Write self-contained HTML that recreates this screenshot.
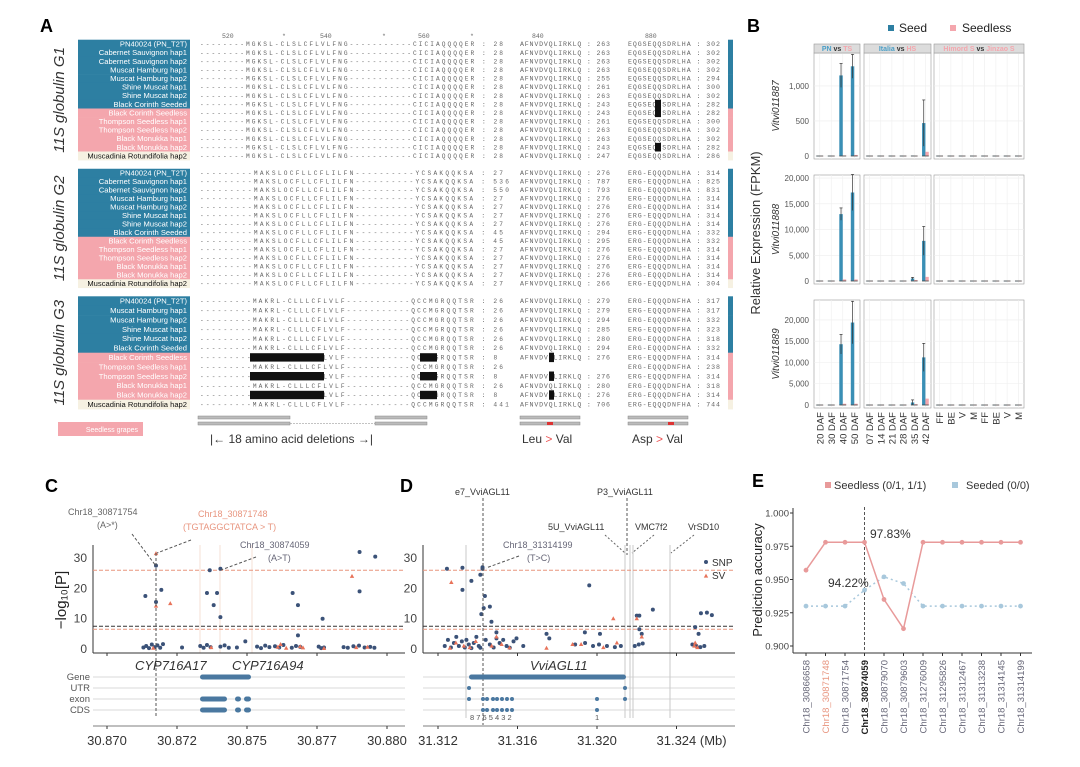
<!DOCTYPE html>
<html><head><meta charset="utf-8"><style>
html,body{margin:0;padding:0;background:#fff;}
svg{display:block;font-family:"Liberation Sans",sans-serif;}
.mono{font-family:"Liberation Mono",monospace;fill:#666;}
</style></head><body>
<svg id="fig" width="1080" height="767" viewBox="0 0 1080 767">
<g id="pA">
<text x="40" y="32" font-size="18" font-weight="bold">A</text>
<text class="mono" x="222" y="38" font-size="6.5">520</text>
<text class="mono" x="282" y="38" font-size="6.5">*</text>
<text class="mono" x="320" y="38" font-size="6.5">540</text>
<text class="mono" x="382" y="38" font-size="6.5">*</text>
<text class="mono" x="418" y="38" font-size="6.5">560</text>
<text class="mono" x="470" y="38" font-size="6.5">*</text>
<text class="mono" x="532" y="38" font-size="6.5">840</text>
<text class="mono" x="645" y="38" font-size="6.5">880</text>
<rect x="58" y="422" width="85" height="14" fill="#f4a6ad"/>
<text x="138" y="432" font-size="7" fill="#fff" text-anchor="end">Seedless grapes</text>
<rect x="198" y="422" width="92" height="3" fill="#bbb" stroke="#888" stroke-width="0.5"/>
<line x1="290" y1="423.5" x2="375" y2="423.5" stroke="#888" stroke-dasharray="2,1" stroke-width="0.6"/>
<rect x="375" y="422" width="52" height="3" fill="#bbb" stroke="#888" stroke-width="0.5"/>
<rect x="198" y="416" width="92" height="3" fill="#bbb" stroke="#888" stroke-width="0.5"/>
<rect x="375" y="416" width="52" height="3" fill="#bbb" stroke="#888" stroke-width="0.5"/>
<rect x="520" y="416" width="60" height="3" fill="#bbb" stroke="#888" stroke-width="0.5"/>
<rect x="520" y="422" width="60" height="3" fill="#bbb" stroke="#888" stroke-width="0.5"/>
<rect x="547" y="422" width="6" height="3" fill="#d33"/>
<rect x="628" y="416" width="60" height="3" fill="#bbb" stroke="#888" stroke-width="0.5"/>
<rect x="628" y="422" width="60" height="3" fill="#bbb" stroke="#888" stroke-width="0.5"/>
<rect x="668" y="422" width="6" height="3" fill="#d33"/>
<text x="210" y="443" font-size="12" fill="#333">|← 18 amino acid deletions →|</text>
<text x="522" y="443" font-size="12" fill="#333">Leu <tspan fill="#e55">&gt;</tspan> Val</text>
<text x="632" y="443" font-size="12" fill="#333">Asp <tspan fill="#e55">&gt;</tspan> Val</text>
</g>
<g id="pB"></g>
<g id="pC"></g>
<g id="pD"></g>
<g id="pE"></g>
</svg>
<script>
const NS="http://www.w3.org/2000/svg";
function mk(p,tag,at,txt){const e=document.createElementNS(NS,tag);for(const k in at)e.setAttribute(k,at[k]);if(txt!==undefined)e.textContent=txt;p.appendChild(e);return e;}
const BLUE="#2d7fa2",PINK="#f4a6ad",CREAM="#f6f1e2";

/* ---------- Panel A ---------- */
const namesG1=["PN40024 (PN_T2T)","Cabernet Sauvignon hap1","Cabernet Sauvignon hap2","Muscat Hamburg hap1","Muscat Hamburg hap2","Shine Muscat hap1","Shine Muscat hap2","Black Corinth Seeded","Black Corinth Seedless","Thompson Seedless hap1","Thompson Seedless hap2","Black Monukka hap1","Black Monukka hap2","Muscadinia Rotundifolia hap2"];
const namesG3=["PN40024 (PN_T2T)","Muscat Hamburg hap1","Muscat Hamburg hap2","Shine Muscat hap1","Shine Muscat hap2","Black Corinth Seeded","Black Corinth Seedless","Thompson Seedless hap1","Thompson Seedless hap2","Black Monukka hap1","Black Monukka hap2","Muscadinia Rotundifolia hap2"];
const nG1=[["28","28","28","28","28","28","28","28","28","28","28","28","28","28"],["263","263","263","263","255","261","263","243","243","261","263","263","243","247"],["302","302","302","302","294","300","302","282","282","300","302","302","282","286"]];
const nG2=[["27","536","550","27","27","27","27","45","45","27","27","27","27","27"],["276","787","793","276","276","276","276","294","295","276","276","276","276","266"],["314","825","831","314","314","314","314","332","332","314","314","314","314","304"]];
const nG3=[["26","26","26","26","26","26","8","26","8","26","8","441"],["279","279","294","285","280","294","276","","276","280","276","706"],["317","317","332","323","318","332","314","238","314","318","314","744"]];
const groups=[
 {title:"11S globulin G1",y0:44,dy:8.6,names:namesG1,nb:8,np:5,nums:nG1,s:["--------MGKSL-CLSLCFLVLFNG-----------CICIAQQQQER","AFNVDVQLIRKLQ","EQGSEQQSDRLHA"]},
 {title:"11S globulin G2",y0:173,dy:8.5,names:namesG1,nb:8,np:5,nums:nG2,s:["---------MAKSLOCFLLCFLILFN----------YCSAKQQKSA","AFNVDVQLIRKLQ","ERG-EQQQDNLHA"]},
 {title:"11S globulin G3",y0:301,dy:9.4,names:namesG3,nb:6,np:5,nums:nG3,s:["---------MAKRL-CLLLCFLVLF-----------QCCMGRQQTSR","AFNVDVQLIRKLQ","ERG-EQQQDNFHA"]}];
const pA=document.getElementById('pA');
groups.forEach((g,gi)=>{
  const n=g.names.length, top=g.y0-g.dy/2, bot=g.y0+(n-0.5)*g.dy;
  const t=mk(pA,'text',{x:0,y:0,'font-size':15,'font-style':'italic',fill:'#333','text-anchor':'middle',transform:`translate(${64},${(top+bot)/2}) rotate(-90)`},g.title);
  
  
  g.names.forEach((nm,i)=>{
    const col=i<g.nb?BLUE:(i<g.nb+g.np?PINK:CREAM);
    const y=g.y0+i*g.dy;
    mk(pA,'rect',{x:78,y:y-g.dy/2,width:112,height:g.dy+0.3,fill:col});
    mk(pA,'rect',{x:728,y:y-g.dy/2,width:5,height:g.dy+0.3,fill:col});
    const lb=mk(pA,'text',{x:187,y:y+2.6,'font-size':7.6,fill:col===CREAM?'#111':'#fff','text-anchor':'end'},nm);
    
    
    const xs=[200,520,628], fs=[6.2,6.6,6.6], tl=[303,90,92];
    g.s.forEach((s,b)=>{
      let str=s; if(gi===2&&i===7&&b===1) str="";
      const full=str+(g.nums[b][i]!==''?" : "+g.nums[b][i]:"");
      const at={x:xs[b],y:y+2.2,'font-size':fs[b],class:'mono'};
      if(str!==""){at.textLength=tl[b]*full.length/(s.length+(b===0?5:6));at.lengthAdjust='spacing';}
      const st=mk(pA,'text',at,full);
      
      
    });
    if(gi===2&&(i===6||i===8||i===10)){
      mk(pA,'rect',{x:250,y:y-g.dy/2+0.5,width:74,height:g.dy-1,fill:'#111'});
      mk(pA,'rect',{x:420,y:y-g.dy/2+0.5,width:17,height:g.dy-1,fill:'#111'});
      mk(pA,'rect',{x:549,y:y-g.dy/2,width:5,height:g.dy,fill:'#111'});
    }
    if(gi===0&&(i===7||i===8||i===12)) mk(pA,'rect',{x:655,y:y-g.dy/2,width:6,height:g.dy,fill:'#111'});
  });
});

/* ---------- Panel B ---------- */
const catsPN=["20 DAF","30 DAF","40 DAF","50 DAF"];
const catsIt=["07 DAF","14 DAF","21 DAF","28 DAF","35 DAF","42 DAF"];
const catsHi=["FF","BE","V","M","FF","BE","V","M"];
const genes=["Vitvi011887","Vitvi011888","Vitvi011889"];
const seed887=[[3,3,1150,1280],[3,3,3,3,5,470],[3,3,3,3,3,3,3,3]];
const seedless887=[[2,2,8,15],[2,2,2,2,2,60],[2,2,2,2,2,2,2,2]];
const err887=[[0,0,170,170],[0,0,0,0,0,330],[0,0,0,0,0,0,0,0]];
const seed888=[[30,40,13000,17200],[30,30,30,30,500,7800],[30,30,30,30,30,30,30,30]];
const seedless888=[[20,20,300,300],[20,20,20,20,200,800],[20,20,20,20,20,20,20,20]];
const err888=[[0,0,1200,3500],[0,0,0,0,200,2800],[0,0,0,0,0,0,0,0]];
const seed889=[[30,40,14300,19400],[30,30,30,30,600,11200],[30,30,30,30,30,30,30,30]];
const seedless889=[[20,20,300,300],[20,20,20,20,200,1500],[20,20,20,20,20,20,20,20]];
const err889=[[0,0,2300,5000],[0,0,0,0,600,3300],[0,0,0,0,0,0,0,0]];
const ticks887=[0,500,1000],ticks888=[0,5000,10000,15000,20000],ticks889=[0,5000,10000,15000,20000];
const pB=document.getElementById('pB');
const facX=[[814,860],[864,931],[934,1024]], facCats=[catsPN,catsIt,catsHi];
const rows=[{top:53,bot:159,y0:156,max:1470,ticks:ticks887,seed:seed887,sl:seedless887,er:err887},
 {top:175,bot:284,y0:281,max:20600,ticks:ticks888,seed:seed888,sl:seedless888,er:err888},
 {top:300,bot:408,y0:405,max:24700,ticks:ticks889,seed:seed889,sl:seedless889,er:err889}];
mk(pB,'text',{x:747,y:32,'font-size':18,'font-weight':'bold'},"B");
mk(pB,'rect',{x:888,y:25,width:6,height:6,fill:BLUE});
mk(pB,'text',{x:899,y:32,'font-size':12,fill:'#222'},"Seed");
mk(pB,'rect',{x:950,y:25,width:6,height:6,fill:PINK});
mk(pB,'text',{x:962,y:32,'font-size':12,fill:'#222'},"Seedless");
mk(pB,'text',{x:0,y:0,'font-size':13,fill:'#333','text-anchor':'middle',transform:'translate(760,233) rotate(-90)'},"Relative Expression (FPKM)");
rows.forEach((r,ri)=>{
  const k=(r.y0-r.top)/r.max, yv=v=>r.y0-v*k;
  const gl=mk(pB,'text',{x:0,y:0,'font-size':10,'font-style':'italic',fill:'#333','text-anchor':'middle',transform:`translate(779,${(r.top+r.bot)/2}) rotate(-90)`},genes[ri]);
  
  
  r.ticks.forEach(t=>{
    mk(pB,'text',{x:809,y:yv(t)+3,'font-size':8,fill:'#555','text-anchor':'end'},t.toLocaleString('en-US'));
  });
  facX.forEach((fx,fi)=>{
    mk(pB,'rect',{x:fx[0],y:r.top,width:fx[1]-fx[0],height:r.bot-r.top,fill:'#fff',stroke:'#999','stroke-width':0.6});
    r.ticks.forEach(t=>mk(pB,'line',{x1:fx[0],x2:fx[1],y1:yv(t),y2:yv(t),stroke:'#eee','stroke-width':0.6}));
    const cats=facCats[fi], bw=(fx[1]-fx[0])/cats.length;
    cats.forEach((c,ci)=>{
      const cx=fx[0]+bw*(ci+0.5);
      mk(pB,'line',{x1:cx,x2:cx,y1:r.top,y2:r.bot,stroke:'#eee','stroke-width':0.6});
      const sv=r.seed[fi][ci], lv=r.sl[fi][ci], e=r.er[fi][ci], w=bw*0.3;
      const b1=mk(pB,'rect',{x:cx-w,y:yv(sv),width:w,height:Math.max(0.5,r.y0-yv(sv)),fill:'#3a8fb5'});
      
      
      const b2=mk(pB,'rect',{x:cx,y:yv(lv),width:w,height:Math.max(0.5,r.y0-yv(lv)),fill:PINK});
      
      
      if(e>0){mk(pB,'line',{x1:cx-w/2,x2:cx-w/2,y1:yv(sv+e),y2:yv(sv-e),stroke:'#333','stroke-width':0.7});
        mk(pB,'line',{x1:cx-w/2-1.5,x2:cx-w/2+1.5,y1:yv(sv+e),y2:yv(sv+e),stroke:'#333','stroke-width':0.7});}
      mk(pB,'line',{x1:cx-w,x2:cx+w,y1:r.y0,y2:r.y0,stroke:'#444','stroke-width':0.8});
      if(ri===2){const xl=mk(pB,'text',{x:0,y:0,'font-size':9.5,fill:'#333','text-anchor':'end',transform:`translate(${cx+3.5},412) rotate(-90)`},c);
        
        }
    });
    if(ri===0){
      mk(pB,'rect',{x:fx[0],y:44,width:fx[1]-fx[0],height:9,fill:'#dcdcdc',stroke:'#999','stroke-width':0.6});
      const labs=[[["PN","#4a9ec6"],[" vs ","#333"],["TS","#f4a6ad"]],[["Italia","#4a9ec6"],[" vs ","#333"],["HS","#f4a6ad"]],[["Himord S","#f4a6ad"],[" vs ","#333"],["Jinzao S","#f4a6ad"]]][fi];
      const st=mk(pB,'text',{x:(fx[0]+fx[1])/2,y:51,'font-size':7,'text-anchor':'middle','font-weight':'bold'});
      
      
      labs.forEach(l=>mk(st,'tspan',{fill:l[1]},l[0]));
    }
  });
});

/* ---------- Panels C & D ---------- */
const cSnpPos=[30.87137,30.87175,30.87175,30.87194,30.87367,30.87357,30.87393,30.87381,30.87405,30.87405,30.87494,30.87663,30.87682,30.87682,30.87770,30.87902,30.87902,30.87958];
const cSnpVal=[17.5,27.5,15.5,19.5,26,18.5,18.5,14.5,10.5,26.5,2.5,18.5,14.5,4.5,10,32,19,30.5];
const cSvPos=[30.87175,30.87175,30.87226,30.87875];
const cSvVal=[31.5,14.2,15,24];
const cLowPos=[30.87130,30.87140,30.87150,30.87160,30.87170,30.87180,30.87190,30.87200,30.87268,30.87333,30.87345,30.87357,30.87370,30.87405,30.87420,30.87435,30.87464,30.87536,30.87550,30.87565,30.87580,30.87600,30.87615,30.87630,30.87660,30.87675,30.87690,30.87756,30.87765,30.87775,30.87845,30.87860,30.87880,30.87900,30.87920,30.87940,30.87955];
const cLowVal=[0.5,1,0.3,1.5,0.6,1.2,0.4,1.6,0.5,1,0.4,1.3,0.6,0.8,1.2,0.4,0.5,0.8,0.3,1.1,0.6,0.9,0.5,1.3,0.4,1,0.7,0.8,0.3,0.5,0.6,0.4,0.9,1.1,0.5,0.7,0.4];
const cLowSv=[30.87165,30.87372,30.87610,30.87620,30.87640,30.87690,30.87700,30.87775,30.87890,30.87930];
const cLowSvVal=[0.3,0.5,0.6,1.5,0.3,0.8,0.4,0.2,0.5,0.6];
const cTicks=[30.870,30.8725,30.875,30.8775,30.880], cTickLab=["30.870","30.872","30.875","30.877","30.880"];
const dSnpPos=[31.31245,31.31323,31.31323,31.31368,31.31413,31.31424,31.31424,31.31418,31.31430,31.31436,31.31461,31.31469,31.31961,31.32200,31.32213,31.32281,31.32213,31.32225,31.32494,31.32511,31.32523,31.32553,31.32578,31.31939,31.32015,31.31746,31.31494,31.31494];
const dSnpVal=[26.5,26.8,19.5,22.5,24.5,27,26.5,11.5,13.5,17.5,14,9,21,11,11,13,6.5,5,7.2,5,11.8,12,11.2,5.5,5,5,5.5,3.5];
const dSvPos=[31.31267,31.32082,31.32200,31.31494,31.32225,31.32494,31.31746,31.31877,31.32032];
const dSvVal=[22,10,10,4,4,2,0.3,1.5,0.5];
const dLowPos=[31.31234,31.31250,31.31265,31.31280,31.31292,31.31305,31.31320,31.31335,31.31343,31.31355,31.31368,31.31380,31.31393,31.31405,31.31413,31.31440,31.31461,31.31480,31.31510,31.31528,31.31545,31.31561,31.31580,31.31595,31.31629,31.31760,31.31890,31.31940,31.31980,31.32010,31.32050,31.32090,31.32120,31.32190,31.32210,31.32230,31.32480,31.32500,31.32520,31.32540];
const dLowVal=[1,3,0.5,2,4,1,2.5,0.5,3,1.5,0.3,2,4,1,0.4,3,1.5,0.5,2,3,1,0.4,2.5,3.5,1,3.5,1.5,2,1,1.5,1,0.6,1,1,1.5,1.8,1.5,1,0.6,1];
const dLowSv=[31.31260,31.31290,31.31330,31.31360,31.31390,31.31470,31.31520,31.31560,31.31920,31.32100,31.32490,31.32505];
const dLowSvVal=[0.3,2,1,0.5,2.5,1,1.5,0.4,1.5,2,1,0.5];
const dTicks=[31.312,31.316,31.320,31.324], dTickLab=["31.312","31.316","31.320","31.324 (Mb)"];
const yTicks=[0,10,20,30];
const yv=v=>649-v*3.03;
const SNPC="#3b5278",SVC="#e8735a";
function manhattan(g,x,x0,x1,snpP,snpV,svP,svV,lowP,lowV,lowSv,lowSvV,ticks,tlab){
  yTicks.forEach(t=>{mk(g,'text',{x:x0-6,y:yv(t)+4,'font-size':12,fill:'#444','text-anchor':'end'},String(t));});
  mk(g,'line',{x1:x0,x2:x0,y1:545,y2:653,stroke:'#333','stroke-width':1});
  mk(g,'line',{x1:x0,x2:x1,y1:653,y2:653,stroke:'#333','stroke-width':1});
  mk(g,'line',{x1:x0,x2:x1,y1:yv(26),y2:yv(26),stroke:'#e8957f','stroke-dasharray':'4,2','stroke-width':1});
  mk(g,'line',{x1:x0,x2:x1,y1:yv(7.5),y2:yv(7.5),stroke:'#333','stroke-dasharray':'4,2','stroke-width':1});
  mk(g,'line',{x1:x0,x2:x1,y1:yv(6.5),y2:yv(6.5),stroke:'#e8957f','stroke-dasharray':'4,2','stroke-width':1});
  [677,688,699,710].forEach(y=>mk(g,'line',{x1:x0,x2:x1,y1:y,y2:y,stroke:'#ccc','stroke-width':0.8}));
  mk(g,'line',{x1:x0,x2:x1,y1:726,y2:726,stroke:'#aaa','stroke-width':1.5});
  ticks.forEach((t,i)=>{mk(g,'line',{x1:x(t),x2:x(t),y1:653,y2:656,stroke:'#333'});
    mk(g,'line',{x1:x(t),x2:x(t),y1:726,y2:729,stroke:'#333'});
    const last=i===ticks.length-1&&tlab[i].length>7;
    const tl=mk(g,'text',{x:x(t),y:745,'font-size':13,fill:'#333','text-anchor':last?'start':'middle',dx:last?-20:0},tlab[i]);
    
    });
  lowP.forEach((p,i)=>{const c=mk(g,'circle',{cx:x(p),cy:yv(lowV[i]),r:2,fill:SNPC});
    
    });
  lowSv.forEach((p,i)=>{const yy=yv(lowSvV[i]),xx=x(p);const t=mk(g,'polygon',{points:`${xx},${yy-2.4} ${xx-2.2},${yy+1.6} ${xx+2.2},${yy+1.6}`,fill:SVC});
    
    });
  snpP.forEach((p,i)=>{const c=mk(g,'circle',{cx:x(p),cy:yv(snpV[i]),r:2,fill:SNPC});
    
    });
  svP.forEach((p,i)=>{const yy=yv(svV[i]),xx=x(p);const t=mk(g,'polygon',{points:`${xx},${yy-2.4} ${xx-2.2},${yy+1.6} ${xx+2.2},${yy+1.6}`,fill:SVC});
    
    });
}
const pC=document.getElementById('pC'), pD=document.getElementById('pD');
const xC=m=>107+(m-30.870)*28000, xD=m=>438+(m-31.312)*19875;
mk(pC,'text',{x:45,y:492,'font-size':18,'font-weight':'bold'},"C");
mk(pC,'text',{x:0,y:0,'font-size':15,fill:'#222','text-anchor':'middle',transform:'translate(66,600) rotate(-90)'},"−log₁₀[P]");
[200,220,252].forEach(xx=>mk(pC,'line',{x1:xx,x2:xx,y1:545,y2:653,stroke:'#f2d8cc','stroke-width':0.8}));
manhattan(pC,xC,93,405,cSnpPos,cSnpVal,cSvPos,cSvVal,cLowPos,cLowVal,cLowSv,cLowSvVal,cTicks,cTickLab);
mk(pC,'line',{x1:156,x2:156,y1:553,y2:718,stroke:'#555','stroke-dasharray':'3,2'});
mk(pC,'text',{x:135,y:670,'font-size':13,'font-style':'italic',fill:'#333'},"CYP716A17");
mk(pC,'text',{x:232,y:670,'font-size':13,'font-style':'italic',fill:'#333'},"CYP716A94");
["Gene","UTR","exon","CDS"].forEach((l,i)=>mk(pC,'text',{x:90,y:680+i*11,'font-size':9.5,fill:'#555','text-anchor':'end'},l));
mk(pC,'rect',{x:200,y:674.5,width:51,height:5,rx:2.5,fill:'#4a78a0'});
[[200,227],[235,241],[244,251]].forEach(s=>{mk(pC,'rect',{x:s[0],y:696.5,width:s[1]-s[0],height:5,rx:2.5,fill:'#4a78a0'});mk(pC,'rect',{x:s[0],y:707.5,width:s[1]-s[0],height:5,rx:2.5,fill:'#4a78a0'});});
mk(pC,'text',{x:68,y:515,'font-size':9,fill:'#666'},"Chr18_30871754");
mk(pC,'text',{x:97,y:528,'font-size':9,fill:'#666'},"(A>*)");
mk(pC,'text',{x:198,y:517,'font-size':9,fill:'#e8957f'},"Chr18_30871748");
mk(pC,'text',{x:183,y:530,'font-size':9,fill:'#e8957f'},"(TGTAGGCTATCA > T)");
mk(pC,'text',{x:240,y:548,'font-size':9,fill:'#667'},"Chr18_30874059");
mk(pC,'text',{x:268,y:561,'font-size':9,fill:'#667'},"(A>T)");
mk(pC,'line',{x1:132,y1:534,x2:156,y2:566,stroke:'#555','stroke-dasharray':'3,2'});
mk(pC,'line',{x1:191,y1:540,x2:157,y2:553,stroke:'#555','stroke-dasharray':'3,2'});
mk(pC,'line',{x1:256,y1:557,x2:221,y2:570,stroke:'#555','stroke-dasharray':'3,2'});

mk(pD,'text',{x:400,y:492,'font-size':18,'font-weight':'bold'},"D");
[466,625,630,633,670].forEach(xx=>mk(pD,'line',{x1:xx,x2:xx,y1:545,y2:718,stroke:'#bbb','stroke-width':0.8}));
manhattan(pD,xD,423,735,dSnpPos,dSnpVal,dSvPos,dSvVal,dLowPos,dLowVal,dLowSv,dLowSvVal,dTicks,dTickLab);
mk(pD,'line',{x1:483,x2:483,y1:498,y2:725,stroke:'#555','stroke-dasharray':'3,2'});
mk(pD,'line',{x1:627,x2:627,y1:498,y2:555,stroke:'#555','stroke-dasharray':'3,2'});
mk(pD,'text',{x:455,y:495,'font-size':9,fill:'#333'},"e7_VviAGL11");
mk(pD,'text',{x:597,y:495,'font-size':9,fill:'#333'},"P3_VviAGL11");
mk(pD,'text',{x:548,y:530,'font-size':9,fill:'#333'},"5U_VviAGL11");
mk(pD,'text',{x:635,y:530,'font-size':9,fill:'#333'},"VMC7f2");
mk(pD,'text',{x:688,y:530,'font-size':9,fill:'#333'},"VrSD10");
mk(pD,'line',{x1:605,y1:535,x2:625,y2:553,stroke:'#666','stroke-dasharray':'2,2'});
mk(pD,'line',{x1:654,y1:535,x2:632,y2:553,stroke:'#666','stroke-dasharray':'2,2'});
mk(pD,'line',{x1:694,y1:535,x2:671,y2:553,stroke:'#666','stroke-dasharray':'2,2'});
mk(pD,'text',{x:503,y:548,'font-size':9,fill:'#667'},"Chr18_31314199");
mk(pD,'text',{x:527,y:561,'font-size':9,fill:'#667'},"(T>C)");
mk(pD,'line',{x1:519,y1:556,x2:486,y2:568,stroke:'#555','stroke-dasharray':'3,2'});
mk(pD,'circle',{cx:706,cy:562,r:2,fill:SNPC});
mk(pD,'text',{x:712,y:566,'font-size':10,fill:'#333'},"SNP");
mk(pD,'polygon',{points:"706,573.6 703.8,577.6 708.2,577.6",fill:SVC});
mk(pD,'text',{x:712,y:579,'font-size':10,fill:'#333'},"SV");
mk(pD,'text',{x:530,y:670,'font-size':13,'font-style':'italic',fill:'#333'},"VviAGL11");
mk(pD,'rect',{x:469,y:674.5,width:157,height:5,rx:2.5,fill:'#4a78a0'});
[469,625].forEach(xx=>mk(pD,'circle',{cx:xx,cy:688,r:2,fill:'#4a78a0'}));
[469,483,487,493,497,502,507,512,597,625].forEach(xx=>mk(pD,'circle',{cx:xx,cy:699,r:2,fill:'#4a78a0'}));
[483,487,493,497,502,507,512,597].forEach(xx=>mk(pD,'circle',{cx:xx,cy:710,r:2,fill:'#4a78a0'}));
mk(pD,'text',{x:470,y:720,'font-size':7.5,fill:'#555'},"8  7 6 5 4 3 2");
mk(pD,'text',{x:595,y:720,'font-size':7.5,fill:'#555'},"1");

/* ---------- Panel E ---------- */
const markers=["Chr18_30866658","Chr18_30871748","Chr18_30871754","Chr18_30874059","Chr18_30879070","Chr18_30879603","Chr18_31276009","Chr18_31295826","Chr18_31312467","Chr18_31313238","Chr18_31314145","Chr18_31314199"];
const seedlessAcc=[0.957,0.978,0.978,0.978,0.935,0.913,0.978,0.978,0.978,0.978,0.978,0.978];
const seededAcc=[0.930,0.930,0.930,0.942,0.952,0.947,0.930,0.930,0.930,0.930,0.930,0.930];
const eTicks=[0.900,0.925,0.950,0.975,1.000];
const pE=document.getElementById('pE');
const ex=i=>806+i*19.5, ey=v=>646-(v-0.9)*1330;
mk(pE,'text',{x:752,y:487,'font-size':18,'font-weight':'bold'},"E");
mk(pE,'rect',{x:825,y:482,width:6,height:6,fill:'#e89a9a'});
mk(pE,'text',{x:834,y:489,'font-size':11,fill:'#333'},"Seedless (0/1, 1/1)");
mk(pE,'rect',{x:952,y:482,width:6,height:6,fill:'#a8c8dc'});
mk(pE,'text',{x:966,y:489,'font-size':11,fill:'#333'},"Seeded (0/0)");
mk(pE,'text',{x:0,y:0,'font-size':13,fill:'#222','text-anchor':'middle',transform:'translate(762,580) rotate(-90)'},"Prediction accuracy");
mk(pE,'line',{x1:793,x2:793,y1:508,y2:653,stroke:'#333'});
mk(pE,'line',{x1:793,x2:1032,y1:653,y2:653,stroke:'#333'});
eTicks.forEach(t=>{mk(pE,'line',{x1:790,x2:793,y1:ey(t),y2:ey(t),stroke:'#333'});
  mk(pE,'text',{x:789,y:ey(t)+3.5,'font-size':9.5,fill:'#444','text-anchor':'end'},t.toFixed(3));});
mk(pE,'line',{x1:ex(3),x2:ex(3),y1:507,y2:650,stroke:'#555','stroke-dasharray':'3,2'});
markers.forEach((m,i)=>{mk(pE,'line',{x1:ex(i),x2:ex(i),y1:653,y2:656,stroke:'#333'});
  const l=mk(pE,'text',{x:0,y:0,'font-size':9.5,fill:i===1?'#e8957f':(i===3?'#222':'#667'),'font-weight':i===3?'bold':'normal','text-anchor':'end',transform:`translate(${ex(i)+3.5},660) rotate(-90)`},m);
  
  });
mk(pE,'polyline',{points:seededAcc.map((v,i)=>ex(i)+','+ey(v)).join(' '),fill:'none',stroke:'#a8c8dc','stroke-width':1.5,'stroke-dasharray':'2,3'});
mk(pE,'polyline',{points:seedlessAcc.map((v,i)=>ex(i)+','+ey(v)).join(' '),fill:'none',stroke:'#e89a9a','stroke-width':1.5});
seededAcc.forEach((v,i)=>{const c=mk(pE,'circle',{cx:ex(i),cy:ey(v),r:2.4,fill:'#a8c8dc'});
  
  });
seedlessAcc.forEach((v,i)=>{const c=mk(pE,'circle',{cx:ex(i),cy:ey(v),r:2.4,fill:'#e89a9a'});
  
  });
mk(pE,'text',{x:870,y:538,'font-size':12,fill:'#333'},"97.83%");
mk(pE,'text',{x:828,y:587,'font-size':12,fill:'#333'},"94.22%");
</script>
</body></html>
